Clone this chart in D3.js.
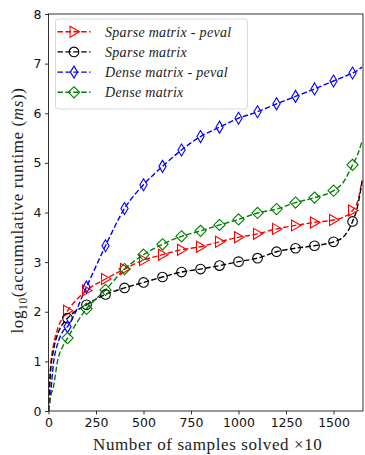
<!DOCTYPE html>
<html>
<head>
<meta charset="utf-8">
<script src="https://cdn.jsdelivr.net/npm/d3@7/dist/d3.min.js"></script>
<style>
  body { margin: 0; background: #fff; }
  svg { display: block; }
</style>
</head>
<body>
<div id="chart"></div>
<script>
// x positions (samples solved / 10), markers every 100
var samples = [0, 3, 6, 12, 25, 50, 75, 100, 200, 300, 400, 500, 600, 700, 800, 900, 1000,
               1100, 1200, 1300, 1400, 1500, 1550, 1600, 1625, 1650];

var sparsePeval = [0, 0.3, 0.6, 0.95, 1.3, 1.68, 1.88, 2.02, 2.43, 2.66, 2.86, 3.04, 3.15, 3.25, 3.31, 3.41, 3.5,
                   3.57, 3.67, 3.74, 3.8, 3.85, 3.9, 4.04, 4.2, 4.65];
var sparse = [0, 0.25, 0.5, 0.85, 1.2, 1.57, 1.75, 1.87, 2.14, 2.35, 2.48, 2.59, 2.7, 2.8, 2.86, 2.93, 3.01,
              3.08, 3.21, 3.28, 3.33, 3.41, 3.5, 3.82, 4.1, 4.62];
var densePeval = [0, 0.05, 0.15, 0.38, 0.92, 1.38, 1.6, 1.7, 2.5, 3.33, 4.08, 4.56, 4.93, 5.26, 5.53, 5.72, 5.9,
                  6.03, 6.19, 6.34, 6.49, 6.65, 6.73, 6.81, 6.86, 6.93];
var dense = [0, 0.05, 0.15, 0.3, 0.47, 1.05, 1.3, 1.47, 2.06, 2.44, 2.86, 3.15, 3.36, 3.52, 3.63, 3.75, 3.86,
             3.99, 4.07, 4.2, 4.3, 4.44, 4.6, 4.96, 5.15, 5.44];

var seriesNames = ["Sparse matrix - peval", "Sparse matrix", "Dense matrix - peval", "Dense matrix"];
var seriesValues = [sparsePeval, sparse, densePeval, dense];
var seriesColors = ["#ff0000", "#000000", "#0000ff", "#008000"];
var seriesMarkers = ["triRight", "circle", "thinDiamond", "diamond"];

var xTicks = [0, 250, 500, 750, 1000, 1250, 1500];
var yTicks = [0, 1, 2, 3, 4, 5, 6, 7, 8];

var width = 365, height = 455;
var margin = {left: 48.5, right: 2, top: 14, bottom: 44};

var svg = d3.select("#chart").append("svg")
    .attr("width", width)
    .attr("height", height);

var x = d3.scaleLinear().domain([0, 1655]).range([margin.left, width - margin.right]);
var y = d3.scaleLinear().domain([0, 8]).range([height - margin.bottom, margin.top]);

var tickFont = "'DejaVu Sans', sans-serif";
var serif = "'Liberation Serif', 'DejaVu Serif', serif";

// axes
var gx = svg.append("g")
    .attr("transform", "translate(0," + y(0) + ")")
    .call(d3.axisBottom(x).tickValues(xTicks).tickSize(3.5).tickPadding(3.5).tickFormat(d3.format("d")));
var gy = svg.append("g")
    .attr("transform", "translate(" + x(0) + ",0)")
    .call(d3.axisLeft(y).tickValues(yTicks).tickSize(3.5).tickPadding(3.5).tickFormat(d3.format("d")));
[gx, gy].forEach(function (g) {
    g.select(".domain").remove();
    g.selectAll("line").attr("stroke", "#000").attr("stroke-width", 0.8);
    g.selectAll("text").attr("font-family", tickFont).attr("font-size", 12.5).attr("fill", "#111");
});

// frame
svg.append("rect")
    .attr("x", x(0)).attr("y", y(8))
    .attr("width", x.range()[1] - x(0))
    .attr("height", y(0) - y(8))
    .attr("fill", "none").attr("stroke", "#000").attr("stroke-width", 0.8);

// lines
var clip = svg.append("clipPath").attr("id", "clip").append("rect")
    .attr("x", x(0)).attr("y", y(8))
    .attr("width", x.range()[1] - x(0)).attr("height", y(0) - y(8));

var line = d3.line()
    .x(function (d) { return x(d[0]); })
    .y(function (d) { return y(d[1]); })
    .curve(d3.curveMonotoneX);

function markerPath(kind) {
    if (kind == "triRight") return "M5.5,0L-4,-5.5L-4,5.5Z";
    if (kind == "circle") return d3.symbol().type(d3.symbolCircle).size(Math.PI * 4.8 * 4.8)();
    if (kind == "thinDiamond") return "M0,-6L3.6,0L0,6L-3.6,0Z";
    return "M0,-5.6L5.6,0L0,5.6L-5.6,0Z";
}

var plot = svg.append("g").attr("clip-path", "url(#clip)");

seriesValues.forEach(function (vals, i) {
    var pts = samples.map(function (s, j) { return [s, vals[j]]; });
    plot.append("path")
        .datum(pts)
        .attr("d", line)
        .attr("fill", "none")
        .attr("stroke", seriesColors[i])
        .attr("stroke-width", 1.4)
        .attr("stroke-dasharray", "5.5,2.4");
    var marks = pts.filter(function (p) { return p[0] > 0 && p[0] % 100 == 0; });
    svg.append("g").selectAll("path")
        .data(marks)
        .enter().append("path")
        .attr("transform", function (d) { return "translate(" + x(d[0]) + "," + y(d[1]) + ")"; })
        .attr("d", markerPath(seriesMarkers[i]))
        .attr("fill", "none")
        .attr("stroke", seriesColors[i])
        .attr("stroke-width", 1.1);
});

// legend
var leg = svg.append("g").attr("transform", "translate(55.5,19)");
leg.append("rect")
    .attr("width", 192).attr("height", 90)
    .attr("rx", 3).attr("ry", 3)
    .attr("fill", "#fff").attr("fill-opacity", 0.8)
    .attr("stroke", "#d0d0d0").attr("stroke-width", 0.8);
seriesNames.forEach(function (name, i) {
    var ly = 12.7 + i * 20.2;
    var row = leg.append("g").attr("transform", "translate(0," + ly + ")");
    row.append("line")
        .attr("x1", 2).attr("x2", 35)
        .attr("stroke", seriesColors[i]).attr("stroke-width", 1.4)
        .attr("stroke-dasharray", "5.5,2.4");
    row.append("path")
        .attr("transform", "translate(18.5,0)")
        .attr("d", markerPath(seriesMarkers[i]))
        .attr("fill", "none")
        .attr("stroke", seriesColors[i]).attr("stroke-width", 1.1);
    row.append("text")
        .attr("x", 49.5).attr("dy", "0.35em")
        .attr("font-family", serif).attr("font-style", "italic")
        .attr("font-size", 14).attr("fill", "#222")
        .attr("letter-spacing", 0.3)
        .text(name);
});

// axis labels
svg.append("text")
    .attr("x", (x.range()[0] + x.range()[1]) / 2 + 2)
    .attr("y", 450)
    .attr("text-anchor", "middle")
    .attr("font-family", serif).attr("font-size", 17).attr("fill", "#222")
    .attr("letter-spacing", 0.6)
    .text("Number of samples solved \u00d710");

var yl = svg.append("text")
    .attr("transform", "translate(23," + ((y(0) + y(8)) / 2 - 2) + ") rotate(-90)")
    .attr("text-anchor", "middle")
    .attr("font-family", serif).attr("font-size", 17).attr("fill", "#222")
    .attr("letter-spacing", 0.6);
yl.append("tspan").text("log");
yl.append("tspan").attr("font-size", 11.5).attr("dy", 4).text("10");
yl.append("tspan").attr("dy", -4).text("(accumulative runtime (");
yl.append("tspan").attr("font-style", "italic").text("ms");
yl.append("tspan").text("))");
</script>
</body>
</html>
